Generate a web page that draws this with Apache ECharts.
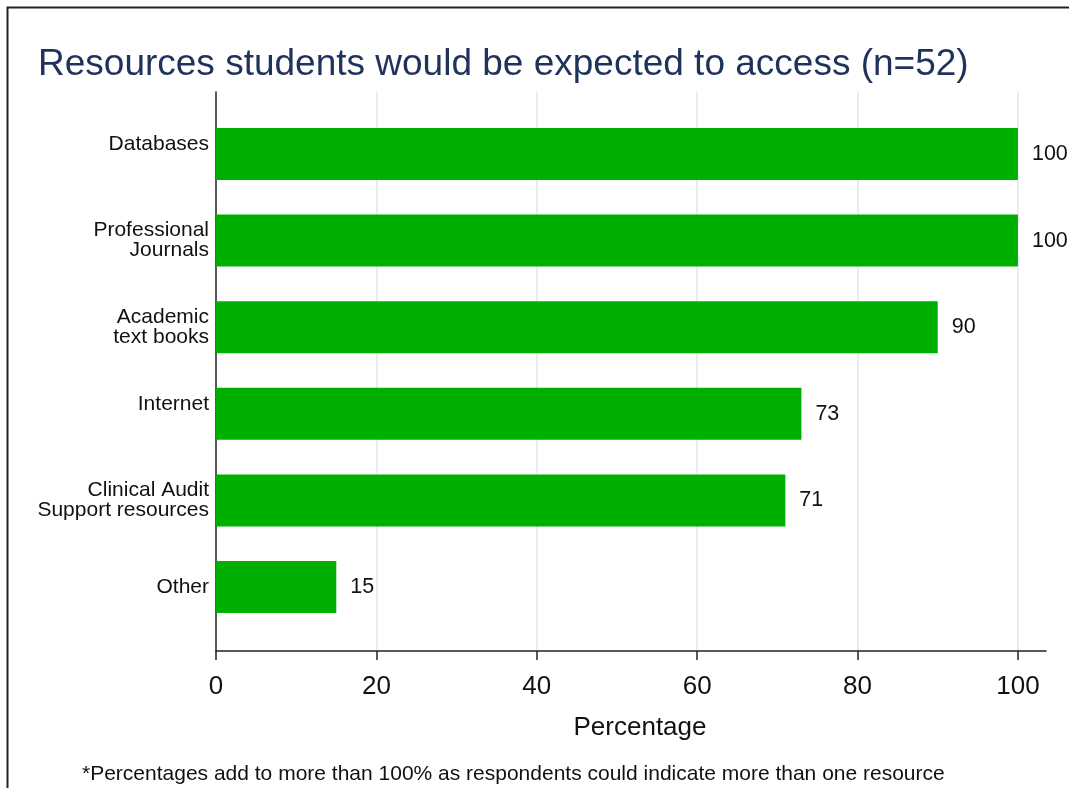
<!DOCTYPE html>
<html>
<head>
<meta charset="utf-8">
<script src="https://cdn.jsdelivr.net/npm/echarts@6/dist/echarts.min.js"></script>
<style>
  html, body { margin: 0; padding: 0; background: #fff; }
  #chart { width: 1069px; height: 788px; }
</style>
</head>
<body>
<div id="chart"></div>
<script>
// Resources categories, top to bottom (single-line names keep a blank second line)
const categories = [
  'Databases\n',
  'Professional\nJournals',
  'Academic\ntext books',
  'Internet\n',
  'Clinical Audit\nSupport resources',
  'Other'
];
// Percentage of respondents (n=52)
const percentages = [100, 100, 90, 73, 71, 15];
// Tick values along the percentage axis
const xTicks = [0, 20, 40, 60, 80, 100];

const titleText = 'Resources students would be expected to access (n=52)';
const axisTitle = 'Percentage';
const footnote = '*Percentages add to more than 100% as respondents could indicate more than one resource';

const FONT = '"Liberation Sans", Arial, sans-serif';
const X_MAX = 103.5;

const chart = echarts.init(document.getElementById('chart'), null, { renderer: 'canvas' });

// split line colours: one per tick, the trailing extent tick is hidden
const gridColors = xTicks.map((v, i) => i === 0 ? 'rgba(0,0,0,0)' : '#e6eef1');
gridColors.push('rgba(0,0,0,0)');

chart.setOption({
  backgroundColor: '#ffffff',
  animation: false,
  textStyle: { fontFamily: FONT },
  title: [
    {
      text: titleText,
      left: 33,
      top: 41,
      textStyle: { fontFamily: FONT, fontSize: 37, fontWeight: 'normal', color: '#1f325c' }
    },
    {
      text: footnote,
      left: 77,
      top: 759,
      textStyle: { fontFamily: FONT, fontSize: 21, fontWeight: 'normal', color: '#111' }
    }
  ],
  graphic: [
    {
      type: 'polyline',
      shape: { points: [[7.5, 788], [7.5, 7.5], [1069, 7.5]] },
      style: { stroke: '#222', lineWidth: 2, fill: null },
      silent: true
    }
  ],
  grid: [
    // outer plot frame: axes, ticks, gridlines
    { left: 216, right: 23, top: 92, bottom: 137 },
    // bar region
    { left: 216, right: 23, top: 110.7, bottom: 157.7 }
  ],
  xAxis: [
    {
      gridIndex: 0,
      type: 'value',
      min: 0,
      max: X_MAX,
      interval: 20,
      name: axisTitle,
      nameLocation: 'middle',
      nameGap: 64,
      nameTextStyle: { fontFamily: FONT, fontSize: 26, color: '#111', padding: [0, 0, 0, 18] },
      axisLine: { show: true, onZero: false, lineStyle: { color: '#222', width: 1.5 } },
      axisTick: { show: true, length: 9, customValues: xTicks, lineStyle: { color: '#222', width: 1.5 } },
      axisLabel: {
        customValues: xTicks,
        fontFamily: FONT, fontSize: 26, color: '#111', margin: 23,
        formatter: v => String(v)
      },
      splitLine: { show: true, lineStyle: { color: gridColors, width: 2 } }
    },
    {
      gridIndex: 1,
      type: 'value',
      min: 0,
      max: X_MAX,
      show: false
    }
  ],
  yAxis: [
    {
      gridIndex: 0,
      type: 'value',
      min: 0,
      max: 1,
      axisLine: { show: true, lineStyle: { color: '#222', width: 1.5 } },
      axisTick: { show: false },
      axisLabel: { show: false },
      splitLine: { show: false }
    },
    {
      gridIndex: 1,
      type: 'category',
      inverse: true,
      data: categories,
      axisLine: { show: false },
      axisTick: { show: false },
      splitLine: { show: false },
      axisLabel: {
        fontFamily: FONT, fontSize: 21, color: '#111', margin: 7,
        lineHeight: 20, align: 'right'
      }
    }
  ],
  series: [
    {
      type: 'bar',
      xAxisIndex: 1,
      yAxisIndex: 1,
      data: percentages,
      barWidth: 52,
      itemStyle: { color: '#00b000' },
      label: {
        show: true,
        position: 'right',
        distance: 14,
        fontFamily: FONT,
        fontSize: 21.5,
        color: '#111'
      }
    }
  ]
});
</script>
</body>
</html>
